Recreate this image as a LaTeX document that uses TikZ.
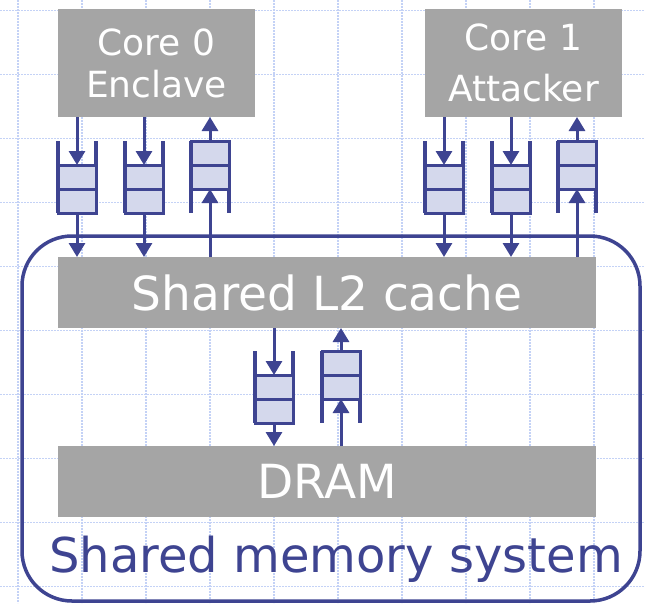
\documentclass[tikz,border=0pt]{standalone}
\usepackage{fontspec}
\setmainfont{DejaVu Sans}
\usetikzlibrary{arrows.meta,calc}
\definecolor{navy}{RGB}{62,68,145}
\definecolor{qfill}{RGB}{212,216,236}
\definecolor{boxgray}{RGB}{165,165,165}
\definecolor{gridblue}{RGB}{196,210,246}

% a request queue: two slots, open at the input side
\newcommand\downqueue[3]{%
  \coordinate (#1t) at (#2,#3);
  \draw[wall] (#1t -| {#2-19,0}) -- ++(0,72);
  \draw[wall] (#1t -| {#2+19,0}) -- ++(0,72);
  \node[cell] (#1a) at (#2,{#3+36}) {};
  \node[cell] (#1b) at (#2,{#3+60}) {};
}
\newcommand\upqueue[3]{%
  \coordinate (#1t) at (#2,#3);
  \draw[wall] (#1t -| {#2-19,0}) -- ++(0,72);
  \draw[wall] (#1t -| {#2+19,0}) -- ++(0,72);
  \node[cell] (#1a) at (#2,{#3+12}) {};
  \node[cell] (#1b) at (#2,{#3+36}) {};
}

\begin{document}
\begin{tikzpicture}[x=1pt,y=-1pt,
  box/.style={fill=boxgray, text=white, inner sep=0pt, outer sep=0pt, align=center},
  cell/.style={draw=navy, fill=qfill, line width=3pt, minimum width=38pt, minimum height=24pt, inner sep=0pt, outer sep=0pt},
  wall/.style={draw=navy, line width=3.5pt},
  arr/.style={draw=navy, line width=3pt, -{Triangle[width=16pt,length=14pt]}},
  gridline/.style={draw=gridblue, line width=1.5pt, dash pattern=on 2pt off 1pt}]

\useasboundingbox (0,0) rectangle (645,603);
\fill[white] (0,0) rectangle (645,603);

% background grid
\foreach \k in {0,...,9} {
  \draw[gridline] ({18+64*\k},0) -- ({18+64*\k},603);
  \draw[gridline] (0,{10.5+64*\k}) -- (645,{10.5+64*\k});
}

% memory-system frame
\node[draw=navy, line width=3.5pt, rounded corners=50pt, minimum width=618pt, minimum height=365pt, inner sep=0pt, outer sep=0pt] (memsys) at (331,418.5) {};
\node[anchor=base west, text=navy, inner sep=0pt, font=\fontsize{48}{56}\selectfont] (memlabel) at (49,572) {Shared memory system};

% units
\node[box, minimum width=197pt, minimum height=108pt, font=\fontsize{36}{42}\selectfont] (core0) at (156.5,63) {Core 0\\Enclave};
\node[box, minimum width=197pt, minimum height=108pt, font=\fontsize{36}{51}\selectfont] (core1) at (523.5,63) {Core 1\\Attacker};
\node[box, minimum width=538pt, minimum height=71pt, font=\fontsize{47}{56}\selectfont] (l2) at (327,292.5) {Shared L2 cache};
\node[box, minimum width=538pt, minimum height=71pt, font=\fontsize{47}{56}\selectfont] (dram) at (327,481.5) {DRAM};

% core <-> L2 queues
\downqueue{qa}{77}{141}
\downqueue{qb}{144}{141}
\upqueue{qc}{210}{141}
\downqueue{qd}{444}{141}
\downqueue{qe}{511}{141}
\upqueue{qf}{577}{141}

% L2 <-> DRAM queues
\downqueue{qg}{274}{351}
\upqueue{qh}{341}{351}

% core 0 traffic
\draw[arr] (core0.south -| qaa) -- (qaa.north);
\draw[arr] (qab.south) -- (l2.north -| qab);
\draw[arr] (core0.south -| qba) -- (qba.north);
\draw[arr] (qbb.south) -- (l2.north -| qbb);
\draw[arr] (l2.north -| qcb) -- (qcb.south);
\draw[arr] (qca.north) -- (core0.south -| qca);

% core 1 traffic
\draw[arr] (core1.south -| qda) -- (qda.north);
\draw[arr] (qdb.south) -- (l2.north -| qdb);
\draw[arr] (core1.south -| qea) -- (qea.north);
\draw[arr] (qeb.south) -- (l2.north -| qeb);
\draw[arr] (l2.north -| qfb) -- (qfb.south);
\draw[arr] (qfa.north) -- (core1.south -| qfa);

% L2 <-> DRAM traffic
\draw[arr] (l2.south -| qga) -- (qga.north);
\draw[arr] (qgb.south) -- (dram.north -| qgb);
\draw[arr] (dram.north -| qhb) -- (qhb.south);
\draw[arr] (qha.north) -- (l2.south -| qha);

\end{tikzpicture}
\end{document}
